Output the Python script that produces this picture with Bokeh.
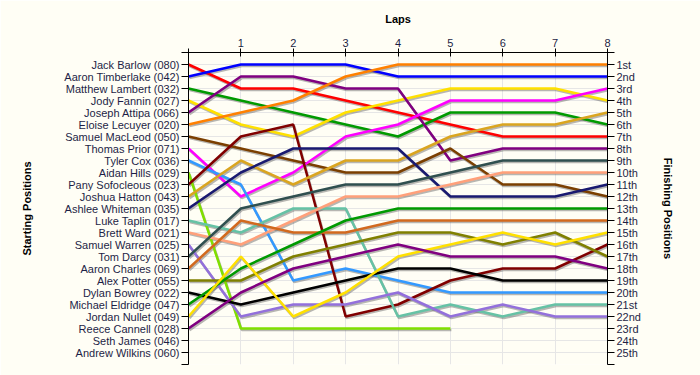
from bokeh.plotting import figure
from bokeh.models import Range1d, LinearAxis, FixedTicker
from bokeh.embed import file_html
from bokeh.resources import INLINE

# ---------------- data ----------------
laps = [0, 1, 2, 3, 4, 5, 6, 7, 8]
drivers = [
    "Jack Barlow (080)", "Aaron Timberlake (042)", "Matthew Lambert (032)",
    "Jody Fannin (027)", "Joseph Attipa (066)", "Eloise Lecuyer (020)",
    "Samuel MacLeod (050)", "Thomas Prior (071)", "Tyler Cox (036)",
    "Aidan Hills (029)", "Pany Sofocleous (023)", "Joshua Hatton (043)",
    "Ashlee Whiteman (035)", "Luke Taplin (017)", "Brett Ward (021)",
    "Samuel Warren (025)", "Tom Darcy (031)", "Aaron Charles (069)",
    "Alex Potter (055)", "Dylan Bowrey (022)", "Michael Eldridge (047)",
    "Jordan Nullet (049)", "Reece Cannell (028)", "Seth James (046)",
    "Andrew Wilkins (060)",
]
finish_labels = [
    "1st", "2nd", "3rd", "4th", "5th", "6th", "7th", "8th", "9th", "10th",
    "11th", "12th", "13th", "14th", "15th", "16th", "17th", "18th", "19th",
    "20th", "21st", "22nd", "23rd", "24th", "25th",
]
# positions per lap (lap 0 .. lap 8); drivers without a line are omitted
jack_barlow      = [1, 3, 3, 4, 5, 6, 7, 7, 7]
aaron_timberlake = [2, 1, 1, 1, 2, 2, 2, 2, 2]
matthew_lambert  = [3, 4, 5, 6, 7, 5, 5, 5, 6]
jody_fannin      = [4, 6, 7, 5, 4, 3, 3, 3, 4]
joseph_attipa    = [5, 2, 2, 3, 3, 9, 8, 8, 8]
eloise_lecuyer   = [6, 5, 4, 2, 1, 1, 1, 1, 1]
samuel_macleod   = [7, 8, 9, 10, 10, 8, 11, 11, 12]
thomas_prior     = [8, 12, 10, 7, 6, 4, 4, 4, 3]
tyler_cox        = [9, 11, 19, 18, 19, 20, 20, 20, 20]
aidan_hills      = [10, 23, 23, 23, 23, 23]
pany_sofocleous  = [11, 7, 6, 22, 21, 19, 18, 18, 16]
joshua_hatton    = [12, 9, 11, 9, 9, 7, 6, 6, 5]
ashlee_whiteman  = [13, 10, 8, 8, 8, 12, 12, 12, 11]
luke_taplin      = [14, 15, 13, 13, 22, 21, 22, 21, 21]
brett_ward       = [15, 16, 14, 12, 12, 11, 10, 10, 10]
samuel_warren    = [16, 22, 21, 21, 20, 22, 21, 22, 22]
tom_darcy        = [17, 13, 12, 11, 11, 10, 9, 9, 9]
aaron_charles    = [18, 14, 15, 15, 14, 14, 14, 14, 14]
alex_potter      = [19, 19, 17, 16, 15, 15, 16, 15, 17]
dylan_bowrey     = [20, 21, 20, 19, 18, 18, 19, 19, 19]
michael_eldridge = [21, 18, 16, 14, 13, 13, 13, 13, 13]
jordan_nullet    = [22, 17, 22, 20, 17, 16, 15, 16, 15]
reece_cannell    = [23, 20, 18, 17, 16, 17, 17, 17, 18]

series = [
    jack_barlow, aaron_timberlake, matthew_lambert, jody_fannin, joseph_attipa,
    eloise_lecuyer, samuel_macleod, thomas_prior, tyler_cox, aidan_hills,
    pany_sofocleous, joshua_hatton, ashlee_whiteman, luke_taplin, brett_ward,
    samuel_warren, tom_darcy, aaron_charles, alex_potter, dylan_bowrey,
    michael_eldridge, jordan_nullet, reece_cannell,
]
colors = [
    "#FF0000", "#0000FF", "#009A00", "#FFE000", "#800080", "#FF8000",
    "#7B3F00", "#FF00FF", "#3399FF", "#80E000", "#800000", "#DAA520",
    "#191970", "#66C2A5", "#FFA07A", "#9370DB", "#2F4F4F", "#D2691E",
    "#808000", "#000000", "#009A00", "#FFE000", "#800080",
]

# ---------------- figure ----------------
FONT = "Liberation Sans"
BG = "#FFFEF5"
TXT = "#1E1E46"

p = figure(width=700, height=375, output_backend="svg", toolbar_location=None,
           x_range=Range1d(0, 8), y_range=Range1d(26, 0),
           x_axis_location="above",
           min_border_left=188, min_border_right=93,
           min_border_top=52, min_border_bottom=11)
p.background_fill_color = BG
p.border_fill_color = BG
p.outline_line_color = None

# shadow offset (about 1px right, 1.5px down)
px_x = 8 / 419.0
px_y = 26 / 312.0
for s in series:
    xs = laps[:len(s)]
    p.line([x + 1.0 * px_x for x in xs], [y + 1.6 * px_y for y in s],
           line_color="#606060", line_alpha=0.45, line_width=2.5)
for s, c in zip(series, colors):
    p.line(laps[:len(s)], s, line_color=c, line_width=2.5)

# top axis (laps)
xa = p.xaxis[0]
xa.ticker = FixedTicker(ticks=laps)
xa.major_label_overrides = {0: ""}
xa.axis_label = "Laps"
xa.minor_tick_line_color = None
xa.major_tick_out = 4
xa.major_tick_in = 4
xa.major_label_standoff = 2
xa.axis_label_standoff = 11

# left axis (starting positions)
ticks = list(range(27))
ya = p.yaxis[0]
ya.ticker = FixedTicker(ticks=ticks)
ya.major_label_overrides = {0: "", 26: "", **{i + 1: d for i, d in enumerate(drivers)}}
ya.axis_label = "Starting Positions"
ya.axis_label_standoff = 28

# right axis (finishing positions)
ra = LinearAxis(ticker=FixedTicker(ticks=ticks))
ra.major_label_overrides = {0: "", 26: "", **{i + 1: f for i, f in enumerate(finish_labels)}}
ra.axis_label = "Finishing Positions"
ra.axis_label_standoff = 18
p.add_layout(ra, "right")

for ax in (ya, ra):
    ax.minor_tick_line_color = None
    ax.major_tick_out = 7
    ax.major_tick_in = 0
    ax.major_label_standoff = 2

for ax in (xa, ya, ra):
    ax.axis_line_color = "#000000"
    ax.major_tick_line_color = "#000000"
    ax.major_label_text_font = FONT
    ax.major_label_text_font_size = "11px"
    ax.major_label_text_color = TXT
    ax.axis_label_text_font = FONT
    ax.axis_label_text_font_size = "11px"
    ax.axis_label_text_font_style = "bold"
    ax.axis_label_text_color = "#000000"

p.xgrid.grid_line_color = "#E6E6E6"
p.ygrid.grid_line_color = "#E6E6E6"

open("out.html", "w").write(file_html(p, INLINE))
